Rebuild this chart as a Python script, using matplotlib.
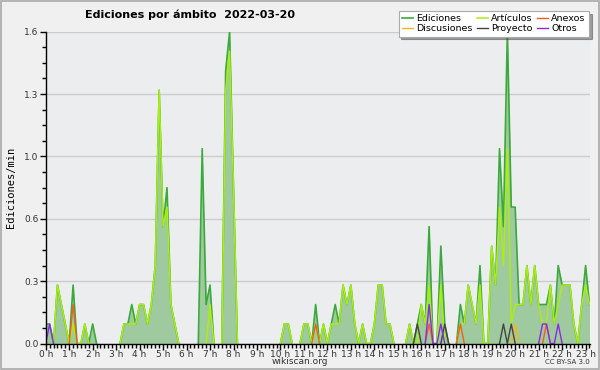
import matplotlib
matplotlib.use('Agg')
import matplotlib.pyplot as plt
from matplotlib.patches import Rectangle
import numpy as np

# 10-minute bins, edits per minute
ediciones = [
    0.1, 0.1, 0.0, 0.3, 0.2, 0.1, 0.0, 0.3, 0.0, 0.0,
    0.1, 0.0, 0.1, 0.0, 0.0, 0.0, 0.0, 0.0, 0.0, 0.0,
    0.1, 0.1, 0.2, 0.1, 0.2, 0.2, 0.1, 0.2, 0.4, 1.3,
    0.6, 0.8, 0.2, 0.1, 0.0, 0.0, 0.0, 0.0, 0.0, 0.0,
    1.0, 0.2, 0.3, 0.0, 0.0, 0.0, 1.4, 1.6, 0.8, 0.0,
    0.0, 0.0, 0.0, 0.0, 0.0, 0.0, 0.0, 0.0, 0.0, 0.0,
    0.0, 0.1, 0.1, 0.0, 0.0, 0.0, 0.1, 0.1, 0.0, 0.2,
    0.0, 0.1, 0.0, 0.1, 0.2, 0.1, 0.3, 0.2, 0.3, 0.1,
    0.0, 0.1, 0.0, 0.0, 0.1, 0.3, 0.3, 0.1, 0.1, 0.0,
    0.0, 0.0, 0.0, 0.1, 0.0, 0.1, 0.2, 0.1, 0.6, 0.0,
    0.0, 0.5, 0.1, 0.0, 0.0, 0.0, 0.2, 0.1, 0.3, 0.2,
    0.1, 0.4, 0.0, 0.0, 0.5, 0.3, 1.0, 0.6, 1.6, 0.7,
    0.7, 0.2, 0.2, 0.4, 0.2, 0.4, 0.2, 0.2, 0.2, 0.3,
    0.1, 0.4, 0.3, 0.3, 0.3, 0.1, 0.0, 0.2, 0.4, 0.2,
]
articulos = [
    0.0, 0.0, 0.0, 0.3, 0.2, 0.1, 0.0, 0.1, 0.0, 0.0,
    0.1, 0.0, 0.0, 0.0, 0.0, 0.0, 0.0, 0.0, 0.0, 0.0,
    0.1, 0.1, 0.1, 0.1, 0.2, 0.2, 0.1, 0.2, 0.4, 1.3,
    0.6, 0.7, 0.2, 0.1, 0.0, 0.0, 0.0, 0.0, 0.0, 0.0,
    0.0, 0.0, 0.2, 0.0, 0.0, 0.0, 1.3, 1.5, 0.8, 0.0,
    0.0, 0.0, 0.0, 0.0, 0.0, 0.0, 0.0, 0.0, 0.0, 0.0,
    0.0, 0.1, 0.1, 0.0, 0.0, 0.0, 0.1, 0.1, 0.0, 0.1,
    0.0, 0.1, 0.0, 0.1, 0.1, 0.1, 0.3, 0.2, 0.3, 0.1,
    0.0, 0.1, 0.0, 0.0, 0.1, 0.3, 0.3, 0.1, 0.1, 0.0,
    0.0, 0.0, 0.0, 0.1, 0.0, 0.0, 0.2, 0.1, 0.3, 0.0,
    0.0, 0.3, 0.0, 0.0, 0.0, 0.0, 0.1, 0.1, 0.3, 0.2,
    0.1, 0.3, 0.0, 0.0, 0.5, 0.3, 0.7, 0.4, 1.0, 0.1,
    0.2, 0.2, 0.2, 0.4, 0.2, 0.4, 0.2, 0.1, 0.1, 0.3,
    0.1, 0.2, 0.3, 0.3, 0.3, 0.1, 0.0, 0.2, 0.3, 0.2,
]
# sparse series: bin -> value (all other bins are 0)
discusiones = {120: 0.1}
proyecto = {95: 0.1, 102: 0.1, 117: 0.1, 119: 0.1}
anexos = {7: 0.2, 69: 0.1, 98: 0.1, 106: 0.1, 128: 0.1}
otros = {1: 0.1, 98: 0.2, 101: 0.1, 127: 0.1, 128: 0.1, 131: 0.1}

n = len(ediciones)
hours = np.arange(n) / 6.0


def expand(d):
    s = np.zeros(n)
    for k, v in d.items():
        s[k] = v
    return s


def hide_zero_runs(vals):
    # keep only the points that belong to a segment touching a non-zero value
    v = np.asarray(vals, dtype=float)
    nz = v > 0
    keep = nz.copy()
    keep[1:] |= nz[:-1]
    keep[:-1] |= nz[1:]
    return np.where(keep, v, np.nan)


fig = plt.figure(figsize=(6, 3.7), dpi=100)
fig.patch.set_facecolor('#f0f0f0')
fig.patches.append(Rectangle((0.001, 0.002), 0.997, 0.995, transform=fig.transFigure,
                             fill=False, edgecolor='#a8a8a8', lw=1.2))

ax = fig.add_axes([0.0762, 0.0716, 0.9063, 0.8427])
ax.set_facecolor('#ebedef')

ax.fill_between(hours, ediciones, color='#9fc99f', lw=0, zorder=1)
l_ed, = ax.plot(hours, hide_zero_runs(ediciones), color='#3aaa3a', lw=1.2, label='Ediciones', zorder=3)
l_ar, = ax.plot(hours, hide_zero_runs(articulos), color='#aaee11', lw=1.1, label='Artículos', zorder=4)
l_di, = ax.plot(hours, hide_zero_runs(expand(discusiones)), color='#f0b820', lw=1, label='Discusiones', zorder=5)
l_pr, = ax.plot(hours, hide_zero_runs(expand(proyecto)), color='#444444', lw=1, label='Proyecto', zorder=5)
l_an, = ax.plot(hours, hide_zero_runs(expand(anexos)), color='#f06020', lw=1, label='Anexos', zorder=5)
l_ot, = ax.plot(hours, hide_zero_runs(expand(otros)), color='#8a2be2', lw=1, label='Otros', zorder=5)

ax.set_xlim(0, hours[-1])
ax.set_ylim(0, 1.6)

yt = np.linspace(0, 1.6, 6)
ax.set_yticks(yt)
ax.set_yticklabels([f'{v:.1f}' for v in yt])
ax.set_yticks(np.arange(0, 1.61, 0.08), minor=True)
ax.set_xticks(np.arange(0, 24))
ax.set_xticklabels([f'{h} h' for h in range(24)])
ax.set_xticks(np.arange(0, hours[-1] + 0.01, 1 / 6), minor=True)

ax.grid(axis='y', color='#cccccc', lw=1)
ax.set_axisbelow(True)
for s in ['top', 'right']:
    ax.spines[s].set_visible(False)
for s in ['left', 'bottom']:
    ax.spines[s].set_color('black')
    ax.spines[s].set_linewidth(1)
    ax.spines[s].set_zorder(6)

ax.tick_params(axis='both', which='major', labelsize=6.5, colors='black', labelcolor='#333333',
               length=4, width=1, pad=1)
ax.tick_params(axis='both', which='minor', length=3, width=1)
ax.tick_params(axis='x', which='major', pad=0.5)

ax.set_ylabel('Ediciones/min', fontsize=7.5, family='DejaVu Sans Mono', labelpad=6)

fig.text(85 / 600, 1 - 15 / 370, 'Ediciones por ámbito  2022-03-20', fontsize=8,
         fontweight='bold', ha='left', va='center')

handles = [l_ed, l_di, l_ar, l_pr, l_an, l_ot]
leg = fig.legend(handles=handles, labels=[h.get_label() for h in handles], ncol=3,
                 loc='upper right', bbox_to_anchor=(589 / 600, 1 - 11 / 370),
                 fontsize=6.8, frameon=True, fancybox=False, shadow=True,
                 handlelength=1.2, handletextpad=0.35, columnspacing=0.4,
                 labelspacing=0.1, borderpad=0.35, borderaxespad=0)
leg.get_frame().set_edgecolor('#aaaaaa')
leg.get_frame().set_linewidth(0.8)

fig.text(300 / 600, 1 - 362 / 370, 'wikiscan.org', fontsize=6.5, ha='center', va='center',
         color='#333333')
fig.text(590 / 600, 1 - 362 / 370, 'CC BY-SA 3.0', fontsize=5, ha='right', va='center',
         color='#333333')

fig.savefig('out.png', dpi=100, facecolor=fig.get_facecolor())
